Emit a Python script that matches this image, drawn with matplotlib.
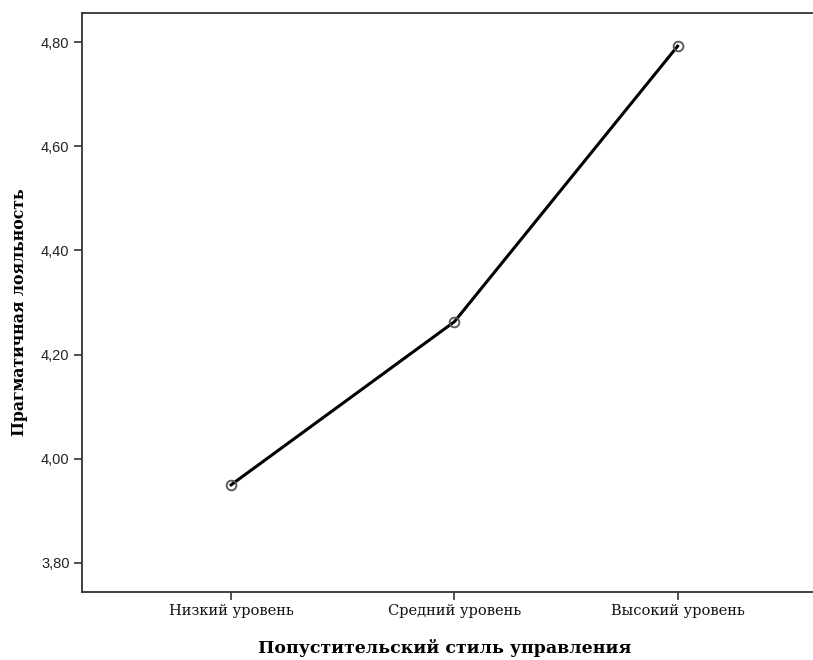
import matplotlib
matplotlib.use("Agg")
import matplotlib.pyplot as plt

categories = ["Низкий уровень", "Средний уровень", "Высокий уровень"]
values = [3.950, 4.263, 4.792]
yticks = [3.80, 4.00, 4.20, 4.40, 4.60, 4.80]
ytick_labels = ["3,80", "4,00", "4,20", "4,40", "4,60", "4,80"]
xlabel = "Попустительский стиль управления"
ylabel = "Прагматичная лояльность"

fig = plt.figure(figsize=(8.13, 6.60), dpi=100)
ax = fig.add_axes([82/813, 68/660, 1.005 - 82/813, (592-13)/660])

x = list(range(len(categories)))
ax.plot(x, values, color="black", lw=2.2, zorder=2)
ax.plot(x, values, linestyle="none", marker="o", ms=7, mfc="none",
        mec="#555555", mew=1.3, zorder=3)

ax.set_xlim(-0.668, 2.625)
ax.set_ylim(3.7443, 4.8557)
ax.set_yticks(yticks)
ax.set_yticklabels(ytick_labels, fontsize=10.5, family="Liberation Sans", color="#222222")
ax.set_xticks(x)
ax.set_xticklabels(categories, fontsize=10.5, family="DejaVu Serif", color="#111111")
ax.tick_params(axis="both", direction="out", length=6, width=1.3, color="#444444", pad=3)

for s in ["left", "bottom", "top", "right"]:
    ax.spines[s].set_color("#333333")
    ax.spines[s].set_linewidth(1.3)

fig.text(20/813, 1 - 312/660, ylabel, rotation=90, ha="center", va="center",
         fontsize=11.3, fontweight="bold", family="DejaVu Serif")
fig.text(445/813, 1 - 648/660, xlabel, ha="center", va="center",
         fontsize=12.5, fontweight="bold", family="DejaVu Serif")

fig.savefig("out.png", dpi=100)
